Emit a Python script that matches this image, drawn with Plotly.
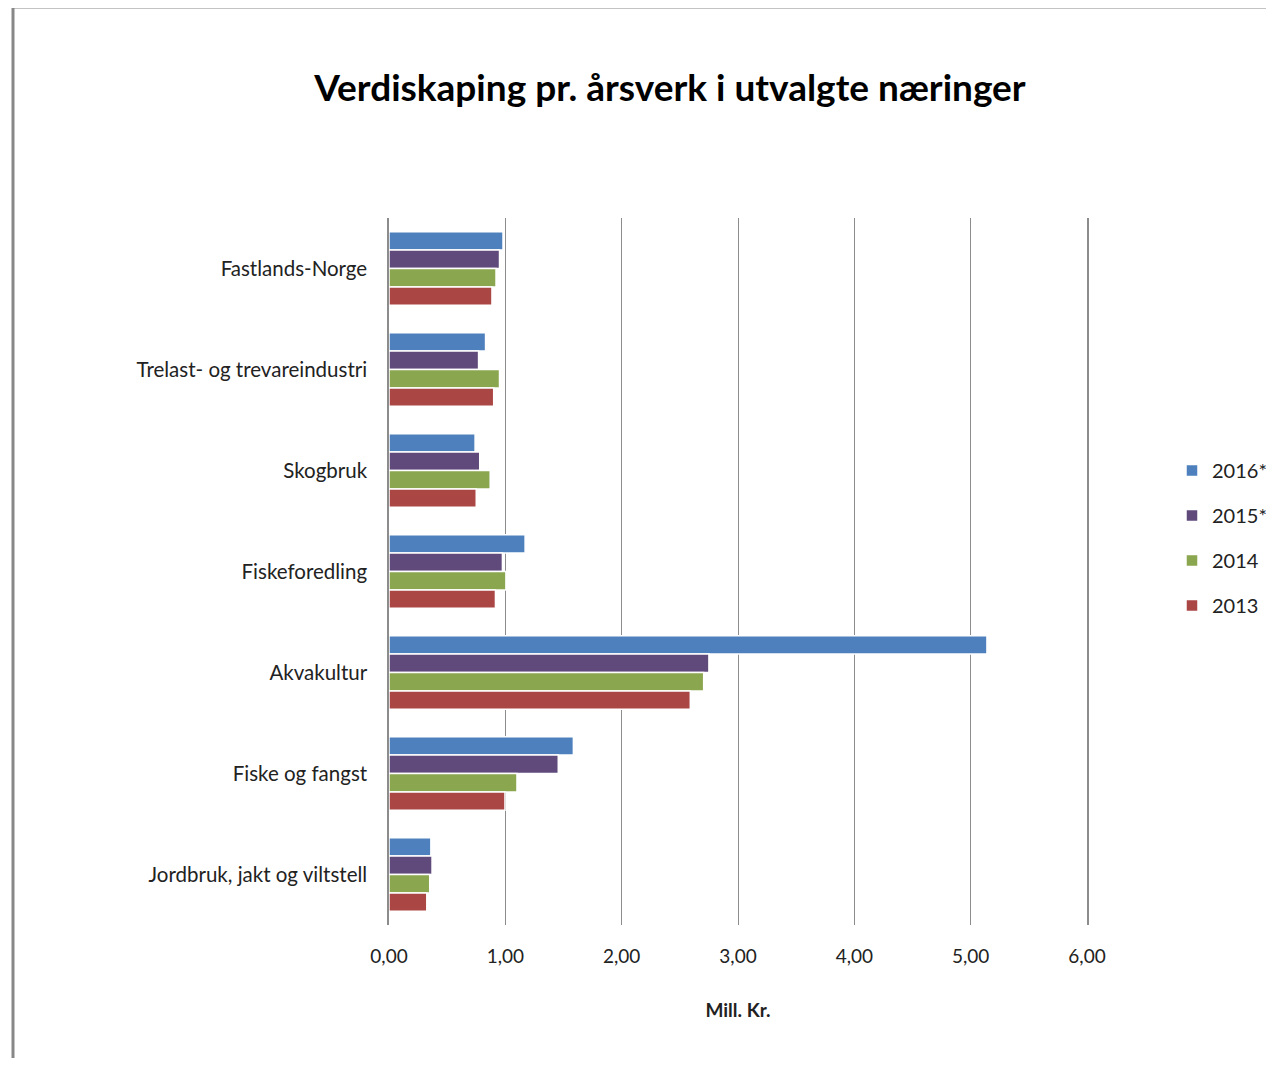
import plotly.graph_objects as go

categories = ["Fastlands-Norge", "Trelast- og trevareindustri", "Skogbruk", "Fiskeforedling",
              "Akvakultur", "Fiske og fangst", "Jordbruk, jakt og viltstell"]
series_names = ["2016*", "2015*", "2014", "2013"]
v2016 = [0.98, 0.83, 0.74, 1.17, 5.14, 1.585, 0.36]
v2015 = [0.95, 0.77, 0.78, 0.975, 2.75, 1.455, 0.37]
v2014 = [0.92, 0.95, 0.87, 1.005, 2.705, 1.10, 0.35]
v2013 = [0.885, 0.90, 0.75, 0.915, 2.59, 0.997, 0.325]
colors = ["#4D80BD", "#604A7B", "#8AA64F", "#AA4644"]
xticks = [0, 1, 2, 3, 4, 5, 6]
xticklabels = ["0,00", "1,00", "2,00", "3,00", "4,00", "5,00", "6,00"]

FONT = "Lato"
OFF = 8  # page body margin
W, H = 1274 - 2 * OFF, 1066 - 2 * OFF
L, R, T, B = 389 - OFF, 1087 - OFF, 218 - OFF, 925 - OFF

fig = go.Figure()
for i, (name, vals) in enumerate(zip(series_names, [v2016, v2015, v2014, v2013])):
    fig.add_trace(go.Bar(
        y=categories, x=vals, name=name, orientation="h",
        marker=dict(color=colors[i], line=dict(color="white", width=1.5)),
        legendgroup=name,
    ))

def px2x(px):
    return (px - OFF - L) / (R - L)

def py2y(py):
    return (B - (py - OFF)) / (B - T)

fig.update_layout(
    width=W, height=H,
    margin=dict(l=L, r=W - R, t=T, b=H - B, autoexpand=False),
    paper_bgcolor="white", plot_bgcolor="white",
    barmode="group", bargap=0.27, bargroupgap=0,
    title=dict(text="<b>Verdiskaping pr. årsverk i utvalgte næringer</b>",
               x=(670 - OFF) / W, xanchor="center",
               y=1 - (88 - OFF) / H, yanchor="middle",
               font=dict(family=FONT, size=37, color="black")),
    font=dict(family=FONT, color="#222"),
    showlegend=True,
    legend=dict(x=px2x(1172), xanchor="left", y=py2y(538), yanchor="middle",
                font=dict(family=FONT, size=20, color="#222"),
                traceorder="grouped", tracegroupgap=16,
                itemwidth=30, bgcolor="rgba(0,0,0,0)"),
    xaxis=dict(range=[0, 6], tickvals=xticks, ticktext=xticklabels,
               showgrid=True, gridcolor="#8c8c8c", gridwidth=1.3,
               zeroline=False, showline=False,
               tickfont=dict(family=FONT, size=19, color="#222"),
               ticklabelstandoff=18,
               title=dict(text="<b>Mill. Kr.</b>", font=dict(family=FONT, size=19, color="#222"),
                          standoff=37)),
    yaxis=dict(autorange="reversed", showgrid=False, showline=True, mirror=True,
               linecolor="#8c8c8c", linewidth=1.5, zeroline=False,
               tickfont=dict(family=FONT, size=20.5, color="#222"),
               ticklabelstandoff=16),
)

# outer frame (left and top borders)
fig.add_shape(type="line", xref="paper", yref="paper",
              x0=px2x(13), x1=px2x(13), y0=py2y(6), y1=py2y(1080),
              line=dict(color="#888888", width=3))
fig.add_shape(type="line", xref="paper", yref="paper",
              x0=px2x(12), x1=px2x(1290), y0=py2y(7), y1=py2y(7),
              line=dict(color="#888888", width=3))

fig.write_html("out.html")
